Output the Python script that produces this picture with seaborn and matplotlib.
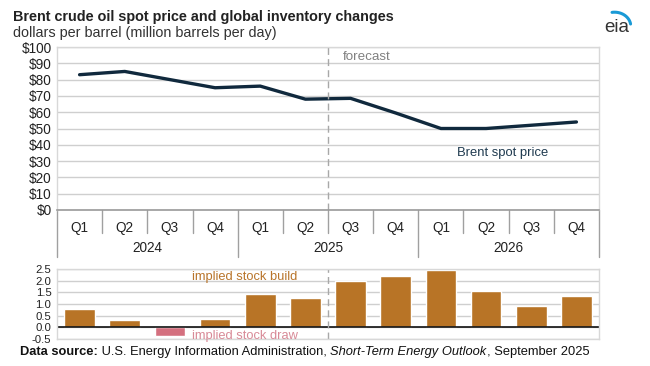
import numpy as np
import pandas as pd
import matplotlib
matplotlib.use("Agg")
import matplotlib.pyplot as plt
import matplotlib.transforms as mtransforms
from matplotlib.lines import Line2D
import seaborn as sns

# Data
years = ["2024", "2025", "2026"]
quarters = ["Q1", "Q2", "Q3", "Q4"]
brent_price = [83, 85, 80, 75, 76, 68, 68.5, 59.5, 50, 50, 52, 54]
stock_change = [0.8, 0.3, -0.35, 0.35, 1.45, 1.25, 2.0, 2.2, 2.45, 1.55, 0.9, 1.35]
price_ticks = [0, 10, 20, 30, 40, 50, 60, 70, 80, 90, 100]
stock_ticks = [-0.5, 0.0, 0.5, 1.0, 1.5, 2.0, 2.5]
forecast_start = 6  # index of first forecast quarter (2025 Q3)

labels = [f"{y} {q}" for y in years for q in quarters]
df = pd.DataFrame({
    "period": labels,
    "pos": np.arange(len(labels)),
    "price": brent_price,
    "stock": stock_change,
})
df["kind"] = np.where(df["stock"] >= 0, "build", "draw")

BUILD = "#B87426"
DRAW = "#D4707F"
LINE = "#10293D"
GRID = "#CFCFCF"
TXT = "#222222"
FS = 9.8

sns.set_theme(style="white")
plt.rcParams["font.family"] = ["Liberation Sans", "DejaVu Sans"]

fig = plt.figure(figsize=(6.5, 3.66), dpi=100)
ax1 = fig.add_axes([57 / 650, 1 - 210 / 366, 542 / 650, 163 / 366])
ax2 = fig.add_axes([57 / 650, 1 - 339 / 366, 542 / 650, 70 / 366])

# ---- top: Brent price
sns.lineplot(data=df, x="pos", y="price", ax=ax1, color=LINE, lw=2.4, legend=False)
ax1.set_xlim(-0.5, len(labels) - 0.5)
ax1.set_ylim(0, 100)
ax1.set_yticks(price_ticks)
ax1.set_yticklabels([f"${v}" for v in price_ticks], fontsize=FS, color=TXT)
ax1.yaxis.grid(True, color=GRID, lw=1)
ax1.set_axisbelow(True)
ax1.set_xlabel("")
ax1.set_ylabel("")
ax1.set_xticks(df["pos"])
ax1.set_xticklabels([q for y in years for q in quarters], fontsize=FS, color=TXT)
ax1.tick_params(axis="x", length=0, pad=8)
ax1.tick_params(axis="y", length=0, pad=4)
for s in ["left", "right", "top"]:
    ax1.spines[s].set_color("#D8D8D8")
    ax1.spines[s].set_linewidth(1)
ax1.spines["bottom"].set_color("#9A9A9A")
ax1.spines["bottom"].set_linewidth(1.2)

# category separators and year labels
trans = mtransforms.blended_transform_factory(ax1.transData, ax1.transAxes)
for b in range(len(labels) + 1):
    x = b - 0.5
    is_year = b % 4 == 0
    y0 = -0.29 if is_year else -0.142
    ax1.add_line(Line2D([x, x], [0, y0], transform=trans, color="#A0A0A0",
                        lw=1, clip_on=False))
for i, y in enumerate(years):
    ax1.text(i * 4 + 1.5, -0.235, y, transform=trans, ha="center", va="center",
             fontsize=FS, color=TXT)

ax1.axvline(forecast_start - 0.5, color="#A8A8A8", lw=1, ls=(0, (5, 3)))
ax1.text(forecast_start - 0.18, 94, "forecast", fontsize=9.6, color="#808080", va="center")
ax1.text(8.35, 35, "Brent spot price", fontsize=9.4, color="#1F3A4F", va="center")

# ---- bottom: implied stock change
sns.barplot(data=df, x="pos", y="stock", hue="kind", palette={"build": BUILD, "draw": DRAW},
            ax=ax2, width=0.68, legend=False, saturation=1, native_scale=True)
ax2.set_xlim(-0.5, len(labels) - 0.5)
ax2.set_ylim(-0.5, 2.5)
ax2.set_yticks(stock_ticks)
ax2.set_yticklabels([f"{v:.1f}" for v in stock_ticks], fontsize=8.2, color=TXT)
ax2.yaxis.grid(True, color=GRID, lw=1)
ax2.set_axisbelow(True)
ax2.axhline(0, color="#111111", lw=1.2)
ax2.axvline(forecast_start - 0.5, color="#A8A8A8", lw=1, ls=(0, (5, 3)))
ax2.set_xticks([])
ax2.set_xlabel("")
ax2.set_ylabel("")
ax2.tick_params(axis="y", length=0, pad=4)
for s in ax2.spines.values():
    s.set_color("#D8D8D8")
    s.set_linewidth(1)
ax2.text(2.49, 2.16, "implied stock build", fontsize=9.3, color="#B8742A", va="center")
ax2.text(2.49, -0.37, "implied stock draw", fontsize=9.3, color="#D88A97", va="center")

# ---- titles, footer, logo
fig.text(13 / 650, 1 - 17 / 366, "Brent crude oil spot price and global inventory changes",
         fontsize=10.4, fontweight="bold", color=TXT, va="center")
fig.text(13 / 650, 1 - 33 / 366, "dollars per barrel (million barrels per day)",
         fontsize=10.4, color="#333333", va="center")

fy = 1 - 352 / 366
t = fig.text(20 / 650, fy, "Data source:", fontsize=9.3, fontweight="bold",
             color="#111111", va="center")
fig.canvas.draw()
r = fig.canvas.get_renderer()
parts = [(" U.S. Energy Information Administration, ", "normal"),
         ("Short-Term Energy Outlook", "italic"),
         (", September 2025", "normal")]
prev = t
for txt, style in parts:
    bb = prev.get_window_extent(renderer=r)
    prev = fig.text(bb.x1 / fig.bbox.width, fy, txt, fontsize=9.3, style=style,
                    color="#111111", va="center")

fig.text(617 / 650, 1 - 28 / 366, "eia", fontsize=13.5, color="#333333",
         ha="center", va="center")
theta = np.linspace(0.55 * np.pi, 0.05 * np.pi, 40)
ax_logo = fig.add_axes([600 / 650, 1 - 36 / 366, 34 / 650, 28 / 366])
ax_logo.plot(np.cos(theta), np.sin(theta) - 0.3, color="#1A9AD6", lw=2.2)
ax_logo.set_xlim(-0.9, 1.2)
ax_logo.set_ylim(-1, 1)
ax_logo.axis("off")

fig.savefig("out.png", dpi=100)
